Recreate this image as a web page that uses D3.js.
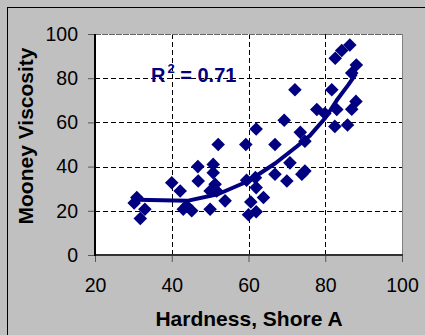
<!DOCTYPE html>
<html><head><meta charset="utf-8">
<script src="https://cdn.jsdelivr.net/npm/d3@7"></script>
<style>html,body{margin:0;padding:0;background:#c0c0c0;}svg{display:block;}</style>
</head><body>
<script>
const hardness = [30.9,30.2,33.0,31.8,40.0,42.2,43.0,43.9,45.2,46.8,46.9,50.0,50.8,50.8,51.3,50.0,51.7,53.9,52.1,59.3,62.0,59.5,61.8,62.0,60.6,63.9,60.0,62.0,66.9,70.8,66.9,70.0,73.9,74.7,72.1,69.3,73.5,74.7,77.8,79.9,82.5,85.8,83.0,86.9,88.0,81.7,86.9,88.1,82.6,84.3,86.4];
const viscosity = [26.0,23.5,20.7,16.5,32.7,29.0,20.7,22.2,20.0,40.0,33.5,20.7,41.0,37.2,32.0,29.0,29.0,24.5,50.0,50.0,57.0,33.8,35.0,30.5,24.0,26.0,18.2,19.6,50.0,41.7,36.5,33.5,36.5,38.0,74.8,61.0,55.5,51.5,65.8,64.0,58.2,58.8,65.8,66.0,69.5,74.8,82.3,86.0,89.0,92.5,95.0];
const trendX = [31,44,52,60,67,72.5,76,80,83,86,88];
const trendY = [25,24.5,27.5,33.5,41.5,49,54,62,70,77,82];
const xTicks = [20,40,60,80,100];
const yTicks = [0,20,40,60,80,100];
const xTitle = "Hardness, Shore A";
const yTitle = "Mooney Viscosity";

const W=425,H=335;
const svg=d3.select("body").append("svg").attr("width",W).attr("height",H);
svg.append("rect").attr("width",W).attr("height",H).attr("fill","#c0c0c0");
svg.append("line").attr("x1",7.5).attr("x2",7.5).attr("y1",7).attr("y2",H).attr("stroke","#000");
svg.append("line").attr("x1",7).attr("x2",W).attr("y1",7.5).attr("y2",7.5).attr("stroke","#000");

const x=d3.scaleLinear().domain([20,100]).range([95,402]);
const y=d3.scaleLinear().domain([0,100]).range([255,34]);
const navy="#000080";
const font="'Liberation Sans', Arial, sans-serif";

svg.append("rect").attr("x",x(20)).attr("y",y(100)).attr("width",x(100)-x(20)).attr("height",y(0)-y(100)).attr("fill","#fff");

// grid
const g=svg.append("g");
g.selectAll(".hg").data(yTicks.filter(d=>d>0&&d<100)).enter().append("line")
 .attr("x1",x(20)).attr("x2",x(100)).attr("y1",d=>Math.round(y(d))+0.5).attr("y2",d=>Math.round(y(d))+0.5)
 .attr("stroke","#000").attr("stroke-dasharray","5,3");
g.selectAll(".vg").data(xTicks.filter(d=>d>20&&d<100)).enter().append("line")
 .attr("y1",y(0)).attr("y2",y(100)).attr("x1",d=>Math.round(x(d))+0.5).attr("x2",d=>Math.round(x(d))+0.5)
 .attr("stroke","#000").attr("stroke-dasharray","5,3");
// plot border top/right
svg.append("line").attr("x1",x(20)).attr("x2",x(100)).attr("y1",y(100)+0.5).attr("y2",y(100)+0.5).attr("stroke","#666").attr("stroke-dasharray","6,1");
svg.append("line").attr("x1",x(100)+0.5).attr("x2",x(100)+0.5).attr("y1",y(100)).attr("y2",y(0)).attr("stroke","#808080");

// axes
const xAxis=svg.append("g").attr("transform",`translate(0,${y(0)})`)
 .call(d3.axisBottom(x).tickValues(xTicks).tickSize(7).tickPadding(16).tickSizeOuter(0));
const yAxis=svg.append("g").attr("transform",`translate(${x(20)},0)`)
 .call(d3.axisLeft(y).tickValues(yTicks).tickSize(7).tickPadding(10).tickSizeOuter(0));
[xAxis,yAxis].forEach(a=>{
  a.select(".domain").remove();
  a.selectAll(".tick line").attr("stroke","#555");
  a.selectAll(".tick text").attr("font-family",font).attr("font-size",19.5).attr("fill","#000");
});
xAxis.selectAll(".tick line").attr("y1",1);
svg.append("line").attr("x1",x(20)).attr("x2",x(100)+1).attr("y1",y(0)).attr("y2",y(0)).attr("stroke","#333").attr("stroke-width",2);
svg.append("line").attr("x1",x(20)).attr("x2",x(20)).attr("y1",y(100)).attr("y2",y(0)+1).attr("stroke","#000").attr("stroke-width",2);

// trend line
const pts=trendX.map((d,i)=>[d,trendY[i]]);
svg.append("path").datum(pts).attr("fill","none").attr("stroke",navy).attr("stroke-width",4)
 .attr("stroke-linejoin","round")
 .attr("d",d3.line().x(d=>x(d[0])).y(d=>y(d[1])));

// points
const data=hardness.map((d,i)=>[d,viscosity[i]]);
const sym=d3.symbol().type(d3.symbolSquare).size(92);
svg.append("g").selectAll("path").data(data).enter().append("path")
 .attr("d",sym).attr("fill",navy)
 .attr("transform",d=>`translate(${x(d[0])},${y(d[1])}) rotate(45)`);

// R2 label
const r=svg.append("text").attr("x",151).attr("y",82).attr("font-family",font).attr("font-weight","bold").attr("font-size",20).attr("fill",navy);
r.append("tspan").text("R");
r.append("tspan").attr("dx",2).attr("dy",-9).attr("font-size",13).text("2");
r.append("tspan").attr("dy",9).text(" = 0.71");

// titles
svg.append("text").attr("x",249).attr("y",326).attr("text-anchor","middle").attr("font-family",font).attr("font-weight","bold").attr("font-size",21).attr("fill","#000").text(xTitle);
svg.append("text").attr("transform","translate(33,136) rotate(-90)").attr("text-anchor","middle").attr("font-family",font).attr("font-weight","bold").attr("font-size",21).attr("fill","#000").text(yTitle);
</script>
</body></html>
